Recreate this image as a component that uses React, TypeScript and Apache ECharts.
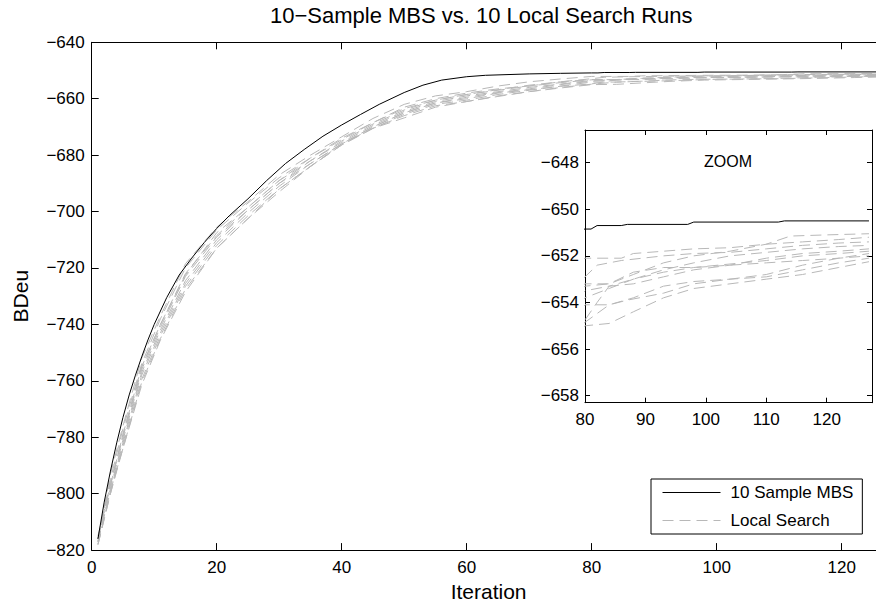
import React, { useEffect, useRef } from "react";
import * as echarts from "echarts";

const TITLE = "10\u2212Sample MBS vs. 10 Local Search Runs";
const X_LABEL = "Iteration";
const Y_LABEL = "BDeu";
const MBS_NAME = "10 Sample MBS";
const LS_NAME = "Local Search";
const ZOOM_LABEL = "ZOOM";

// 10-sample MBS run: [iteration, BDeu]
const mbsRun: number[][] = [
  [1, -816], [2, -803], [3, -792], [4, -782], [5, -773], [6, -765], [7, -758],
  [8, -751.5], [9, -745.5], [10, -740], [12, -730.5], [14, -722.5], [16, -716.5],
  [18, -711], [20, -706], [22, -701.5], [25, -695.5], [28, -689], [31, -683],
  [34, -678], [37, -673.3], [40, -669.3], [43, -665.6], [46, -662], [50, -657.8],
  [53, -655.2], [56, -653.4], [60, -652.2], [63, -651.7], [70, -651.2],
  [75, -651.0], [80, -650.85], [81, -650.85], [82, -650.7], [86, -650.7],
  [87, -650.65], [97, -650.65], [98, -650.55], [112, -650.55], [113, -650.5],
  [127, -650.5],
];

// 10 local search runs: [iteration, BDeu]
const ls1: number[][] = [
  [1, -816], [3, -795], [5, -777], [8, -754], [11, -738], [15, -720], [20, -706.5],
  [25, -697], [30, -688], [35, -681], [40, -674], [45, -668.5], [50, -663],
  [55, -660], [60, -658], [65, -656.5], [70, -655.5], [75, -654.3], [80, -653.3],
  [84, -653.2], [88, -652.8], [93, -652.3], [98, -652.0], [104, -651.8],
  [110, -651.5], [114, -651.15], [120, -651.1], [127, -651.05],
];
const ls2: number[][] = [
  [1, -817], [3, -793], [5, -776], [8, -752], [11, -737], [15, -718.5], [20, -705.5],
  [25, -696.5], [30, -687], [35, -680], [40, -673.5], [45, -667], [50, -662],
  [55, -659], [60, -657.5], [65, -655.5], [70, -654], [75, -653], [80, -652.1],
  [86, -652.1], [88, -651.9], [98, -651.7], [104, -651.65], [110, -651.5],
  [116, -651.4], [122, -651.3], [127, -651.2],
];
const ls3: number[][] = [
  [1, -815], [3, -797], [5, -779], [8, -755], [11, -740], [15, -722], [20, -708.5],
  [25, -698.5], [30, -689], [35, -682], [40, -675], [45, -669], [50, -664],
  [55, -660.5], [60, -658.5], [65, -657], [70, -655.5], [75, -654], [80, -652.9],
  [82, -652.4], [86, -652.2], [93, -652.0], [98, -651.9], [104, -651.85],
  [110, -651.7], [116, -651.55], [122, -651.45], [127, -651.4],
];
const ls4: number[][] = [
  [1, -818], [3, -799], [5, -782], [8, -758], [11, -743], [15, -725.5], [20, -711],
  [25, -700.5], [30, -691], [35, -683], [40, -676], [45, -670], [50, -665],
  [55, -661.5], [60, -660], [65, -658], [70, -656.8], [75, -655.6], [80, -654.75],
  [82, -654.0], [84, -653.3], [88, -653.0], [93, -652.6], [98, -652.3],
  [104, -652.0], [110, -651.85], [116, -651.7], [122, -651.6], [127, -651.55],
];
const ls5: number[][] = [
  [1, -816], [3, -796], [5, -780], [8, -756], [11, -741], [15, -723], [20, -709],
  [25, -699.5], [30, -690], [35, -682], [40, -675.5], [45, -669.5], [50, -664.5],
  [55, -661], [60, -659], [65, -657.5], [70, -656], [75, -654.8], [80, -653.5],
  [84, -653.3], [88, -653.2], [93, -652.9], [98, -652.6], [104, -652.4],
  [110, -652.1], [116, -651.9], [122, -651.8], [127, -651.7],
];
const ls6: number[][] = [
  [1, -817], [3, -798], [5, -781], [8, -757], [11, -742], [15, -724.5], [20, -710],
  [25, -699.5], [30, -690], [35, -683], [40, -676], [45, -670], [50, -665],
  [55, -661.5], [60, -659.5], [65, -657.8], [70, -656.5], [75, -655], [80, -653.8],
  [84, -653.4], [88, -653.0], [93, -652.7], [98, -652.5], [104, -652.35],
  [110, -652.2], [116, -652.0], [122, -651.9], [127, -651.8],
];
const ls7: number[][] = [
  [1, -818], [3, -800], [5, -783], [8, -759.5], [11, -744], [15, -726.5], [20, -712],
  [25, -701.5], [30, -692], [35, -684], [40, -676.4], [45, -670.5], [50, -665.5],
  [55, -662], [60, -660.5], [65, -658.5], [70, -657], [75, -655.5], [80, -654.1],
  [84, -654.1], [87, -653.9], [93, -653.6], [98, -653.2], [104, -653.0],
  [110, -652.8], [116, -652.4], [122, -652.1], [127, -651.9],
];
const ls8: number[][] = [
  [1, -816], [3, -797], [5, -779], [8, -755], [11, -740], [15, -722.5], [20, -707.5],
  [25, -698.5], [30, -689], [35, -681], [40, -674.5], [45, -668.5], [50, -663.5],
  [55, -660.5], [60, -658.5], [65, -656.8], [70, -655.2], [75, -654], [80, -653.2],
  [84, -653.2], [88, -652.7], [93, -652.5], [98, -652.5], [104, -652.4],
  [110, -652.3], [116, -652.2], [122, -652.1], [127, -652.0],
];
const ls9: number[][] = [
  [1, -817], [3, -799], [5, -784], [8, -760.5], [11, -745], [15, -727.5], [20, -713],
  [25, -702.5], [30, -692], [35, -684], [40, -676], [45, -670.5], [50, -666],
  [55, -662.5], [60, -661], [65, -659], [70, -657.5], [75, -656], [80, -654.85],
  [84, -654.1], [88, -653.8], [93, -653.3], [98, -653.1], [104, -653.0],
  [110, -652.9], [116, -652.6], [122, -652.3], [127, -652.1],
];
const ls10: number[][] = [
  [1, -818], [3, -800], [5, -784], [8, -761.5], [11, -745.5], [15, -728.5], [20, -713],
  [25, -702.5], [30, -693], [35, -684], [40, -676.4], [45, -670.5], [50, -666.8],
  [55, -663], [60, -661], [65, -659.2], [70, -657.5], [75, -656.2], [80, -655.0],
  [84, -654.9], [88, -654.4], [93, -653.8], [98, -653.4], [104, -653.2],
  [110, -653.0], [116, -652.8], [122, -652.5], [127, -652.25],
];
const localRuns = [ls1, ls2, ls3, ls4, ls5, ls6, ls7, ls8, ls9, ls10];

// axis ranges / ticks
const MAIN_X = { min: 0, max: 127, step: 20 };
const MAIN_Y = { min: -820, max: -640, step: 20 };
const ZOOM_X = { min: 80, max: 127.5, step: 10 };
const ZOOM_Y = { min: -658.3, max: -646.6, step: 2 };

const FONT = "'Liberation Sans', Arial, Helvetica, sans-serif";
const GRAY = "#b8b8b8";

const minus = (v: number) => String(v).replace("-", "\u2212");
const stepFormatter = (step: number) => (v: number) =>
  Math.abs(v / step - Math.round(v / step)) < 1e-6 ? minus(Math.round(v * 100) / 100) : "";

function axisBase(tickLen: number) {
  return {
    axisLine: { show: true, onZero: false, lineStyle: { color: "#000", width: 1 } },
    axisTick: { show: true, inside: true, length: tickLen, lineStyle: { color: "#000", width: 1 } },
    splitLine: { show: false },
  };
}

export default function App() {
  const ref = useRef<HTMLDivElement>(null);
  useEffect(() => {
    if (!ref.current) return;
    const chart = echarts.init(ref.current, undefined, { renderer: "svg" });

    const labelStyle = { color: "#000", fontSize: 17, fontFamily: FONT };

    const xMain = (position: "bottom" | "top", showLabel: boolean) => ({
      type: "value",
      gridIndex: 0,
      position,
      min: MAIN_X.min,
      max: MAIN_X.max,
      interval: MAIN_X.step,
      ...axisBase(7),
      axisLabel: { show: showLabel, margin: 9, formatter: stepFormatter(MAIN_X.step), ...labelStyle },
    });
    const yMain = (position: "left" | "right", showLabel: boolean) => ({
      type: "value",
      gridIndex: 0,
      position,
      min: MAIN_Y.min,
      max: MAIN_Y.max,
      interval: MAIN_Y.step,
      ...axisBase(7),
      axisLabel: { show: showLabel, margin: 7, formatter: stepFormatter(MAIN_Y.step), ...labelStyle },
    });
    const xZoom = (position: "bottom" | "top", showLabel: boolean) => ({
      type: "value",
      gridIndex: 1,
      position,
      min: ZOOM_X.min,
      max: ZOOM_X.max,
      interval: ZOOM_X.step,
      ...axisBase(5),
      axisLabel: { show: showLabel, margin: 8, formatter: stepFormatter(ZOOM_X.step), ...labelStyle },
    });
    const yZoom = (position: "left" | "right", showLabel: boolean) => ({
      type: "value",
      gridIndex: 1,
      position,
      min: ZOOM_Y.min,
      max: ZOOM_Y.max,
      splitNumber: 5,
      ...axisBase(5),
      axisLabel: { show: showLabel, margin: 6, formatter: stepFormatter(ZOOM_Y.step), ...labelStyle },
    });

    const lsSeries = (xi: number, yi: number) =>
      localRuns.map((run) => ({
        type: "line",
        name: LS_NAME,
        xAxisIndex: xi,
        yAxisIndex: yi,
        data: run,
        showSymbol: false,
        symbol: "none",
        clip: true,
        lineStyle: { color: GRAY, width: 1, type: [11, 6] },
        itemStyle: { color: GRAY },
        silent: true,
      }));
    const mbsSeries = (xi: number, yi: number) => ({
      type: "line",
      name: MBS_NAME,
      xAxisIndex: xi,
      yAxisIndex: yi,
      data: mbsRun,
      showSymbol: false,
      symbol: "none",
      clip: true,
      lineStyle: { color: "#000", width: 1 },
      itemStyle: { color: "#000" },
      silent: true,
      z: 3,
    });

    const option: any = {
      animation: false,
      backgroundColor: "#fff",
      title: {
        text: TITLE,
        left: 270,
        top: 4,
        padding: 0,
        textStyle: { color: "#000", fontSize: 22, fontWeight: "normal", fontFamily: FONT },
      },
      grid: [
        { left: 91.7, top: 42.3, width: 793.75, height: 508.4, containLabel: false },
        {
          left: 585,
          top: 130,
          width: 287,
          height: 272.7,
          containLabel: false,
          show: true,
          backgroundColor: "#fff",
          borderWidth: 0,
        },
      ],
      xAxis: [
        {
          ...xMain("bottom", true),
          name: X_LABEL,
          nameLocation: "middle",
          nameGap: 28,
          nameTextStyle: { color: "#000", fontSize: 21, fontFamily: FONT },
        },
        xMain("top", false),
        xZoom("bottom", true),
        xZoom("top", false),
      ],
      yAxis: [
        {
          ...yMain("left", true),
          name: Y_LABEL,
          nameLocation: "middle",
          nameGap: 61,
          nameRotate: 90,
          nameTextStyle: { color: "#000", fontSize: 21, fontFamily: FONT },
        },
        yMain("right", false),
        yZoom("left", true),
        yZoom("right", false),
      ],
      legend: {
        orient: "vertical",
        left: 651,
        top: 479,
        data: [MBS_NAME, LS_NAME],
        itemWidth: 58,
        itemHeight: 14,
        itemGap: 11,
        padding: [5, 9, 5, 11],
        borderColor: "#000",
        borderWidth: 1,
        borderRadius: 0,
        backgroundColor: "#fff",
        selectedMode: false,
        itemStyle: { opacity: 0 },
        lineStyle: { width: 1 },
        textStyle: { color: "#000", fontSize: 17, fontFamily: FONT, padding: [0, 0, 0, 5] },
      },
      graphic: [
        {
          type: "text",
          left: 704,
          top: 153,
          style: { text: ZOOM_LABEL, fill: "#000", fontSize: 16, fontFamily: FONT },
          z: 10,
        },
      ],
      series: [...lsSeries(0, 0), mbsSeries(0, 0), ...lsSeries(2, 2), mbsSeries(2, 2)],
    };
    chart.setOption(option);
    return () => chart.dispose();
  }, []);

  return (
    <div
      style={{
        position: "fixed",
        left: 0,
        top: 0,
        width: 876,
        height: 607,
        overflow: "hidden",
        background: "#fff",
      }}
    >
      <div ref={ref} style={{ width: 900, height: 607 }} />
    </div>
  );
}
